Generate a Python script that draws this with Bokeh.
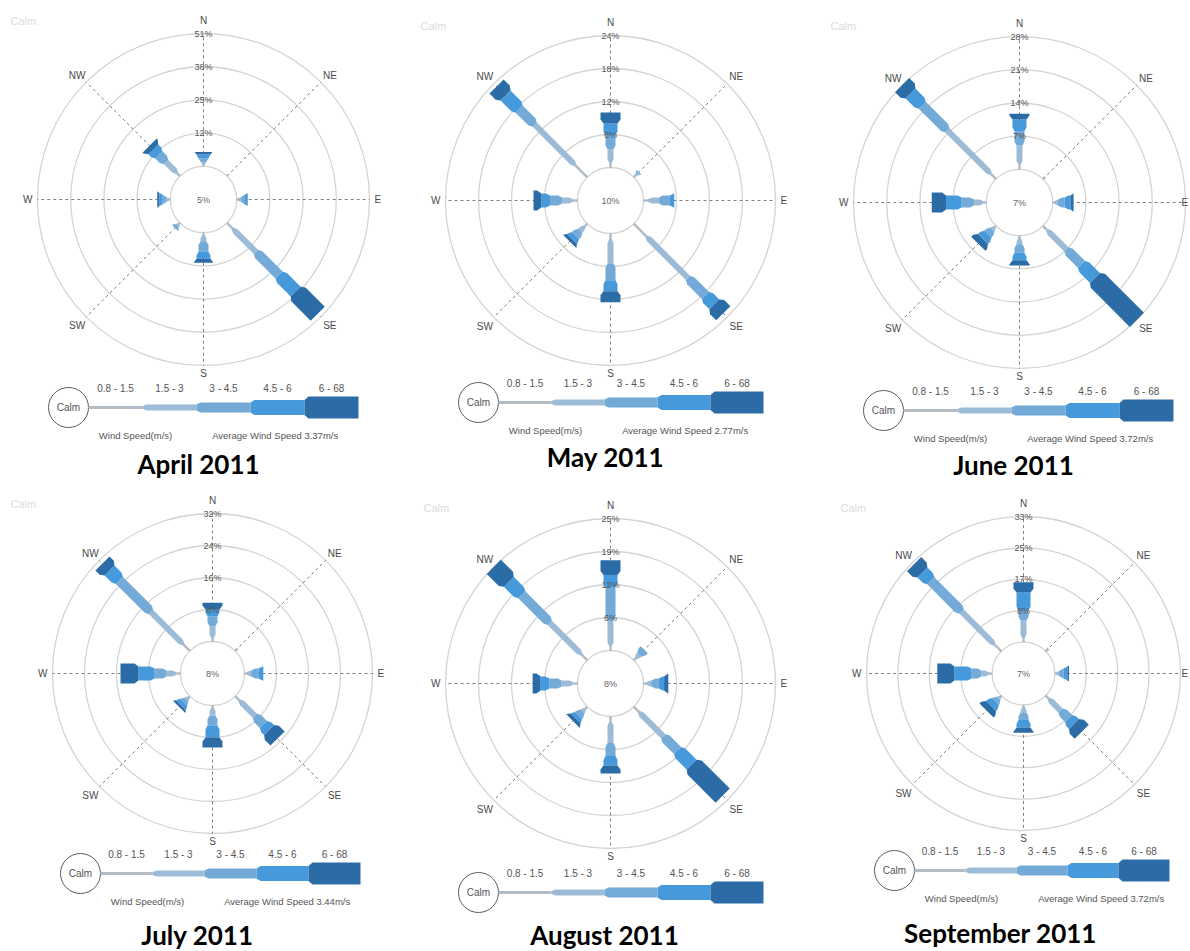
import numpy as np
from bokeh.plotting import figure
from bokeh.models import Range1d, ColumnDataSource
from bokeh.core.properties import value
from bokeh.embed import file_html
from bokeh.resources import INLINE

# ---------------------------------------------------------------- data
directions = ["N", "NE", "E", "SE", "S", "SW", "W", "NW"]
dir_angles = [0, 45, 90, 135, 180, 225, 270, 315]
speed_bins = ["0.8 - 1.5", "1.5 - 3", "3 - 4.5", "4.5 - 6", "6 - 68"]
months = ["April 2011", "May 2011", "June 2011",
          "July 2011", "August 2011", "September 2011"]
calm_pct = [5, 10, 7, 8, 8, 7]
avg_speed = ["3.37m/s", "2.77m/s", "3.72m/s", "3.44m/s", None, "3.72m/s"]
ring_ticks = [[12, 25, 38, 51], [6, 12, 18, 24], [7, 14, 21, 28],
              [8, 16, 24, 32], [6, 12, 19, 25], [8, 17, 25, 33]]

# frequency (%) per direction (N..NW) and speed class (0.8-1.5 .. 6-68)
freq_apr = [[0.5, 1.0, 1.5, 1.5, 1.0],
            [0.3, 0.2, 0.0, 0.0, 0.0],
            [0.5, 1.2, 1.5, 0.8, 0.2],
            [3.0, 12.7, 12.6, 9.0, 12.0],
            [0.8, 2.5, 4.0, 2.7, 1.5],
            [0.5, 1.0, 0.8, 0.3, 0.1],
            [0.5, 1.0, 1.5, 1.2, 0.8],
            [1.5, 6.0, 4.0, 3.0, 2.0]]
freq_may = [[0.8, 2.5, 2.5, 2.2, 2.0],
            [0.5, 0.5, 0.3, 0.0, 0.0],
            [0.8, 2.0, 2.0, 0.8, 0.0],
            [3.2, 10.7, 4.5, 2.3, 2.3],
            [1.0, 4.5, 3.0, 2.0, 2.0],
            [0.6, 1.2, 1.2, 0.9, 0.6],
            [0.8, 2.0, 2.2, 1.6, 1.4],
            [3.0, 10.5, 4.0, 3.5, 2.3]]
freq_jun = [[1.0, 4.0, 3.0, 2.5, 1.2],
            [0.4, 0.2, 0.0, 0.0, 0.0],
            [0.3, 0.8, 1.4, 1.3, 0.6],
            [1.2, 5.8, 4.5, 4.0, 12.5],
            [0.5, 1.3, 1.8, 1.6, 1.1],
            [0.3, 0.8, 1.3, 1.5, 1.4],
            [0.6, 2.0, 2.6, 3.3, 3.0],
            [1.5, 13.0, 7.5, 3.5, 2.5]]
freq_jul = [[0.8, 3.0, 2.5, 1.7, 1.7],
            [0.5, 0.2, 0.0, 0.0, 0.0],
            [0.5, 1.2, 1.8, 1.2, 0.0],
            [1.5, 5.5, 3.0, 2.0, 3.0],
            [0.5, 2.0, 2.5, 3.0, 2.5],
            [0.4, 0.8, 1.0, 1.0, 0.6],
            [1.0, 2.5, 3.0, 4.0, 4.5],
            [2.2, 11.5, 11.2, 3.5, 2.5]]
freq_aug = [[0.8, 5.0, 6.2, 2.3, 2.8],
            [0.5, 1.0, 1.3, 0.0, 0.0],
            [0.5, 1.0, 1.4, 1.0, 0.8],
            [1.3, 6.6, 3.8, 3.8, 8.3],
            [1.0, 4.0, 2.5, 1.8, 1.5],
            [0.5, 0.8, 1.0, 0.8, 0.7],
            [0.8, 2.2, 2.3, 1.7, 1.5],
            [1.5, 8.5, 7.5, 3.5, 4.0]]
freq_sep = [[1.0, 4.7, 2.6, 4.7, 2.7],
            [0.6, 0.4, 0.0, 0.0, 0.0],
            [0.3, 0.8, 1.2, 1.0, 0.4],
            [1.0, 4.5, 3.0, 2.0, 2.9],
            [0.5, 1.5, 2.0, 2.0, 1.3],
            [0.3, 0.7, 1.2, 1.6, 1.7],
            [0.8, 2.0, 2.6, 4.5, 4.5],
            [2.4, 12.3, 11.5, 3.1, 3.1]]
freqs = [freq_apr, freq_may, freq_jun, freq_jul, freq_aug, freq_sep]

# ---------------------------------------------------------------- layout / style
W, H = 1190, 951
panel_cx = [203, 610, 1019, 212, 610, 1023]
panel_cy = [199, 200, 202, 673, 683, 673]
panel_R = [166, 165, 166, 160, 165, 157]
legend_x = [68, 478, 883, 80, 478, 894]
legend_y = [407, 402, 410, 873, 892, 870]
legend_seg = [54, 53, 54, 52, 53, 51]
title_x = [198, 605, 1013, 197, 604, 1000]
title_y = [463, 456, 464, 934, 934, 932]
faint_x = [10, 420, 830, 10, 423, 840]
faint_y = [20, 25, 25, 503, 507, 507]

class_colors = ["#b3bcc5", "#9cbbd6", "#73aad8", "#4699da", "#2c6ca6"]
rose_widths = [2.5, 6, 10, 14, 20]
legend_widths = [3, 6, 10, 15, 22]
LABEL_FONT = value("Liberation Sans")

p = figure(width=W, height=H, x_range=Range1d(0, W), y_range=Range1d(H, 0),
           output_backend="svg", toolbar_location=None, min_border=0)
p.xaxis.visible = False
p.yaxis.visible = False
p.grid.visible = False
p.outline_line_color = None
p.background_fill_color = "white"
p.border_fill_color = "white"


def bar_polys(cx, cy, ang_deg, r_start, lengths, widths, ramp=4.0):
    """Stacked segments along one compass direction, each widening
    from the previous segment's width over a short ramp."""
    a = np.radians(ang_deg)
    ux, uy = np.sin(a), -np.cos(a)
    vx, vy = np.cos(a), np.sin(a)
    out = []
    r = r_start
    w0 = widths[0]
    for k, (L, w) in enumerate(zip(lengths, widths)):
        if L <= 0:
            continue
        t = min(ramp, L)
        w1 = w0 + (w - w0) * (t / ramp)
        pts = [(r, w0 / 2), (r + t, w1 / 2), (r + L, w1 / 2),
               (r + L, -w1 / 2), (r + t, -w1 / 2), (r, -w0 / 2)]
        xs = [cx + d * ux + s * vx for d, s in pts]
        ys = [cy + d * uy + s * vy for d, s in pts]
        out.append((xs, ys, class_colors[k]))
        r += L
        w0 = w1
    return out


ring_x, ring_y, ring_r = [], [], []
spoke_xs, spoke_ys = [], []
bar_xs, bar_ys, bar_col = [], [], []
txt = {k: dict(x=[], y=[], text=[]) for k in
       ["dir_c", "dir_l", "dir_r", "tick", "center", "leg", "cap", "title", "faint"]}


def add_text(kind, x, y, s):
    txt[kind]["x"].append(x)
    txt[kind]["y"].append(y)
    txt[kind]["text"].append(s)


for i in range(6):
    cx, cy, R = panel_cx[i], panel_cy[i], panel_R[i]
    r0 = R * 0.2
    step = (R - r0) / 4
    vmax = ring_ticks[i][-1]

    # rings (the innermost one is the calm circle)
    for k in range(5):
        ring_x.append(cx)
        ring_y.append(cy)
        ring_r.append(r0 + k * step)

    # dashed spokes
    for ang in dir_angles:
        a = np.radians(ang)
        spoke_xs.append([cx + r0 * np.sin(a), cx + R * np.sin(a)])
        spoke_ys.append([cy - r0 * np.cos(a), cy - R * np.cos(a)])

    # stacked bars
    for d, ang in enumerate(dir_angles):
        lengths = [v / vmax * (R - r0) for v in freqs[i][d]]
        for xs, ys, c in bar_polys(cx, cy, ang, r0, lengths, rose_widths):
            bar_xs.append(xs)
            bar_ys.append(ys)
            bar_col.append(c)

    # compass labels
    add_text("dir_c", cx, cy - R - 13, "N")
    add_text("dir_c", cx, cy + R + 8, "S")
    add_text("dir_l", min(cx + R + 5, W - 9), cy, "E")
    add_text("dir_r", cx - R - 5, cy, "W")
    off = R * 0.707 + 9
    add_text("dir_c", cx + off, cy - off + 2, "NE")
    add_text("dir_c", cx - off, cy - off + 2, "NW")
    add_text("dir_c", cx + off, cy + off, "SE")
    add_text("dir_c", cx - off, cy + off, "SW")

    # percentage ticks on the north spoke
    for k, tv in enumerate(ring_ticks[i]):
        add_text("tick", cx, cy - (r0 + (k + 1) * step), f"{tv}%")
    add_text("center", cx, cy, f"{calm_pct[i]}%")

    # legend
    lx, ly, sl = legend_x[i], legend_y[i], legend_seg[i]
    for xs, ys, c in bar_polys(lx, ly, 90, 20, [sl] * 5, legend_widths):
        bar_xs.append(xs)
        bar_ys.append(ys)
        bar_col.append(c)
    for k, lab in enumerate(speed_bins):
        add_text("leg", lx + 20 + sl * (k + 0.5), ly - 19, lab)
    if avg_speed[i] is not None:
        add_text("cap", lx + 67, ly + 28, "Wind Speed(m/s)")
        add_text("cap", lx + 208, ly + 28, "Average Wind Speed  " + avg_speed[i])

    add_text("title", title_x[i], title_y[i], months[i])
    add_text("faint", faint_x[i], faint_y[i], "Calm")

# rings and spokes
p.circle(x=ring_x, y=ring_y, radius=ring_r, fill_color=None,
         line_color="#d4d4d4", line_width=1.3)
p.multi_line(xs=spoke_xs, ys=spoke_ys, line_color="#808080",
             line_width=1, line_dash="3 3")

# legend calm circles
p.circle(x=legend_x, y=legend_y, radius=20, fill_color="white",
         line_color="#5a5a5a", line_width=1)

# bars
p.patches(xs=bar_xs, ys=bar_ys, fill_color=bar_col, line_color=None)

# texts
p.text(x="x", y="y", text="text", source=ColumnDataSource(txt["dir_c"]),
       text_align="center", text_baseline="middle", text_font=LABEL_FONT,
       text_font_size="10px", text_color="#4a4a4a")
p.text(x="x", y="y", text="text", source=ColumnDataSource(txt["dir_l"]),
       text_align="left", text_baseline="middle", text_font=LABEL_FONT,
       text_font_size="10px", text_color="#4a4a4a")
p.text(x="x", y="y", text="text", source=ColumnDataSource(txt["dir_r"]),
       text_align="right", text_baseline="middle", text_font=LABEL_FONT,
       text_font_size="10px", text_color="#4a4a4a")
p.text(x="x", y="y", text="text", source=ColumnDataSource(txt["tick"]),
       text_align="center", text_baseline="middle", text_font=LABEL_FONT,
       text_font_size="9px", text_color="#555555")
p.text(x="x", y="y", text="text", source=ColumnDataSource(txt["center"]),
       text_align="center", text_baseline="middle", text_font=LABEL_FONT,
       text_font_size="9px", text_color="#666666")
p.text(x="x", y="y", text="text", source=ColumnDataSource(txt["leg"]),
       text_align="center", text_baseline="middle", text_font=LABEL_FONT,
       text_font_size="10px", text_color="#555555")
p.text(x=legend_x, y=legend_y, text=["Calm"] * 6,
       text_align="center", text_baseline="middle", text_font=LABEL_FONT,
       text_font_size="10px", text_color="#555555")
p.text(x="x", y="y", text="text", source=ColumnDataSource(txt["cap"]),
       text_align="center", text_baseline="middle", text_font=LABEL_FONT,
       text_font_size="9.5px", text_color="#555555")
p.text(x="x", y="y", text="text", source=ColumnDataSource(txt["faint"]),
       text_align="left", text_baseline="middle", text_font=LABEL_FONT,
       text_font_size="11px", text_color="#dcdcdc")
p.text(x="x", y="y", text="text", source=ColumnDataSource(txt["title"]),
       text_align="center", text_baseline="middle", text_font=value("Lato"),
       text_font_style="bold", text_font_size="26px", text_color="#000000")

open("out.html", "w").write(file_html(p, INLINE))
